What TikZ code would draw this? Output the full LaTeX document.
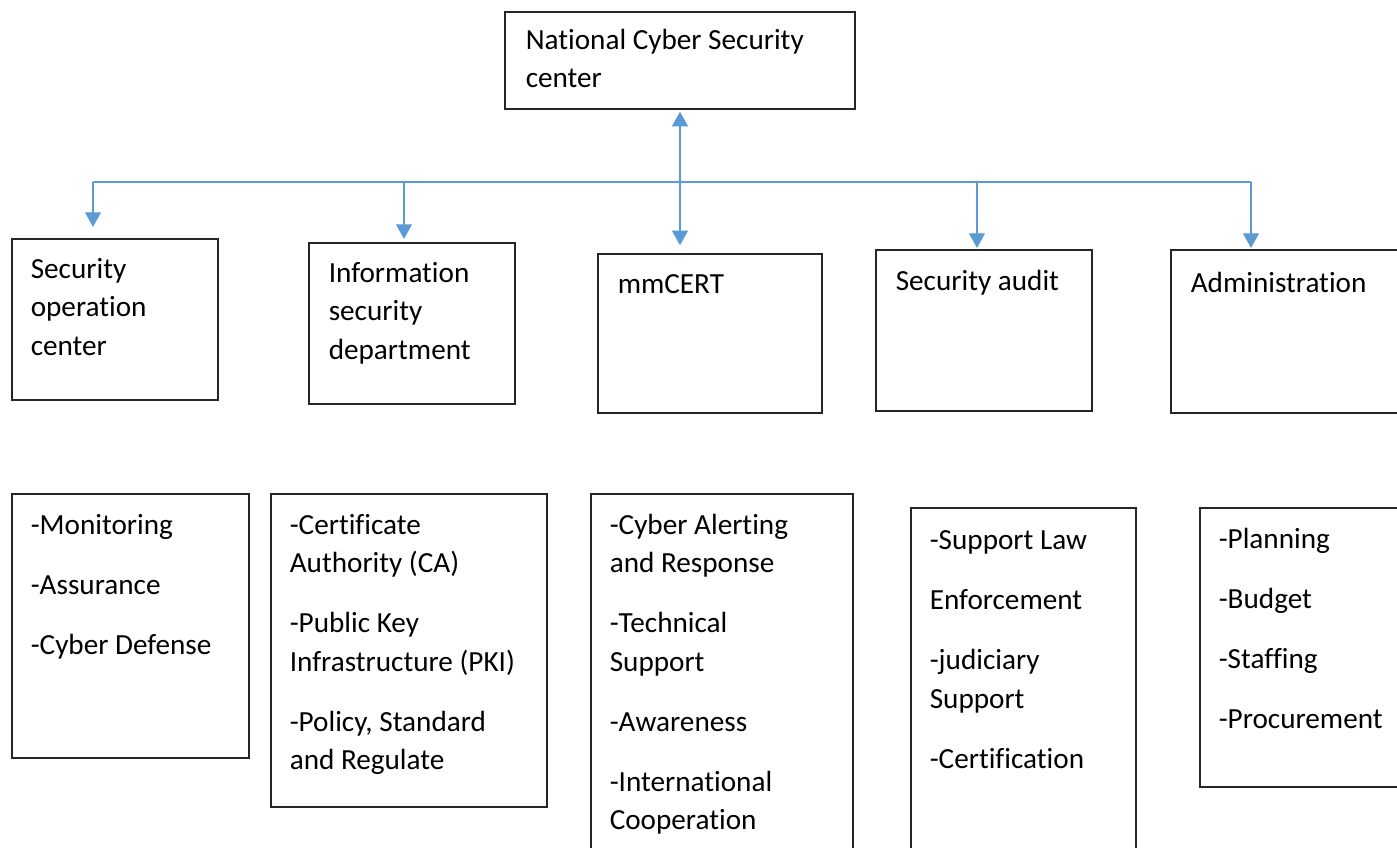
\documentclass[tikz,border=0pt]{standalone}
\usepackage{fontspec}
\setmainfont{Carlito}[RawFeature={-liga;-dlig;-clig}]
\usetikzlibrary{arrows.meta}
\definecolor{arrowblue}{HTML}{5B9BD5}
\definecolor{boxline}{HTML}{262626}
\tikzset{
  box/.style={draw=boxline, line width=1.1pt, fill=none, inner sep=0pt, rectangle},
  txt/.style={anchor=base west, inner sep=0pt, text width=260pt, align=flush left,
    font=\fontsize{21.9pt}{28.7pt}\selectfont},
  link/.style={draw=arrowblue, line width=0.9pt},
  arr/.style={link, -{Triangle[width=12pt,length=11pt]}},
  dblarr/.style={link, {Triangle[width=12pt,length=11pt]}-{Triangle[width=12pt,length=11pt]}},
}
\newcommand{\gap}{\\[16.3pt]}
\begin{document}
\begin{tikzpicture}[x=0.75pt,y=-0.75pt]
\clip (0,0) rectangle (1397,848);
\fill[white] (0,0) rectangle (1397,848);
% boxes
\node[box, minimum width=262.5pt, minimum height=72.75pt] (ncsc) at (680,60.5) {};
\node[box, minimum width=154.5pt, minimum height=120.75pt] (soc) at (115,319.5) {};
\node[box, minimum width=154.5pt, minimum height=120.75pt] (isd) at (412,323.5) {};
\node[box, minimum width=168pt, minimum height=119.25pt] (cert) at (710,333.5) {};
\node[box, minimum width=162pt, minimum height=120.75pt] (aud) at (984,330.5) {};
\node[box, minimum width=186.75pt, minimum height=122.25pt] (adm) at (1295.5,331.5) {};
\node[box, minimum width=177.75pt, minimum height=198pt] (socb) at (130.5,626) {};
\node[box, minimum width=207pt, minimum height=234.75pt] (isdb) at (409,650.5) {};
\node[box, minimum width=196.5pt, minimum height=282pt] (certb) at (722,682) {};
\node[box, minimum width=168.75pt, minimum height=271.5pt] (audb) at (1023.5,689) {};
\node[box, minimum width=165pt, minimum height=209.25pt] (admb) at (1310,647.5) {};
% texts
\node[txt] (ncsct) at (525.5,49.5) {National Cyber Security\\center};
\node[txt] (soct) at (30.5,278.5) {Security\\operation\\center};
\node[txt] (isdt) at (328.5,282.5) {Information\\security\\department};
\node[txt] (certt) at (617.5,293.5) {mmCERT};
\node[txt] (audt) at (895.5,290.5) {Security audit};
\node[txt] (admt) at (1190.5,292.5) {Administration};
\node[txt] (socbt) at (30.5,534.5) {-Monitoring\gap -Assurance\gap -Cyber Defense};
\node[txt] (isdbt) at (289.5,534.5) {-Certificate\\Authority (CA)\gap -Public Key\\Infrastructure (PKI)\gap -Policy, Standard\\and Regulate};
\node[txt] (certbt) at (609.5,534.5) {-Cyber Alerting\\and Response\gap -Technical\\Support\gap -Awareness\gap -International\\Cooperation};
\node[txt] (audbt) at (929.5,550) {-Support Law\gap Enforcement\gap -judiciary\\Support\gap -Certification};
\node[txt] (admbt) at (1218.5,548.5) {-Planning\gap -Budget\gap -Staffing\gap -Procurement};
% connectors
\coordinate (busL) at (93,182);
\coordinate (t2) at (404,182);
\coordinate (hub) at (680,182);
\coordinate (t4) at (977,182);
\coordinate (busR) at (1251,182);
\draw[link] (busL) -- (busR);
\draw[arr, shorten >=8.5pt] (busL) -- (busL |- soc.north);
\draw[arr, shorten >=2.5pt] (t2) -- (t2 |- isd.north);
\draw[dblarr, shorten <=1.5pt, shorten >=6pt] (hub |- ncsc.south) -- (hub |- cert.north);
\draw[arr, shorten >=1pt] (t4) -- (t4 |- aud.north);
\draw[arr, shorten >=1pt] (busR) -- (busR |- adm.north);
\end{tikzpicture}
\end{document}
